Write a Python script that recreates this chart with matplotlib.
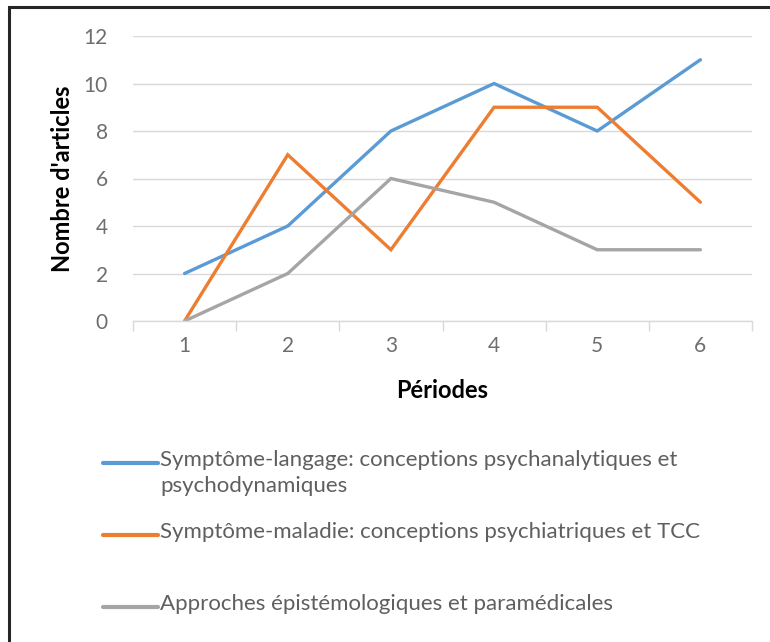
import matplotlib
matplotlib.use("Agg")
import matplotlib.pyplot as plt
from matplotlib.lines import Line2D
from matplotlib.patches import Rectangle

periods = [1, 2, 3, 4, 5, 6]
symptome_langage = [2, 4, 8, 10, 8, 11]
symptome_maladie = [0, 7, 3, 9, 9, 5]
approches = [0, 2, 6, 5, 3, 3]
series_labels = [
    "Symptôme-langage: conceptions psychanalytiques et\npsychodynamiques",
    "Symptôme-maladie: conceptions psychiatriques et TCC",
    "Approches épistémologiques et paramédicales",
]
series_colors = ["#5B9BD5", "#ED7D31", "#A5A5A5"]
y_ticks = [0, 2, 4, 6, 8, 10, 12]

plt.rcParams['font.family'] = ['Lato', 'DejaVu Sans']
W, H = 770, 642
fig = plt.figure(figsize=(W / 100, H / 100), dpi=100)

# outer border (only top/left visible, extends beyond the canvas)
fig.add_artist(Rectangle((9 / W, -0.1), 1.2, 1 - 7 / H + 0.1, transform=fig.transFigure,
                         fill=False, edgecolor="#262626", linewidth=2.2, clip_on=False))

ax = fig.add_axes([133 / W, 1 - 321 / H, (752 - 133) / W, (321 - 36) / H])
for vals, c in zip([symptome_langage, symptome_maladie, approches], series_colors):
    ax.plot(periods, vals, color=c, linewidth=2.4, solid_capstyle="round", solid_joinstyle="miter")

ax.set_xlim(0.5, 6.5)
ax.set_ylim(0, 12)
ax.set_yticks(y_ticks)
ax.set_xticks(periods)
ax.set_xticks([p - 0.5 for p in periods] + [6.5], minor=True)
ax.grid(axis="y", color="#D9D9D9", linewidth=1)
ax.set_axisbelow(True)
for s in ["top", "right", "left"]:
    ax.spines[s].set_visible(False)
ax.spines["bottom"].set_color("#D9D9D9")
ax.spines["bottom"].set_linewidth(1)
ax.tick_params(axis="y", length=0, pad=18, labelsize=15, labelcolor="#6E6E6E")
ax.tick_params(axis="x", which="major", length=0, pad=11, labelsize=15, labelcolor="#6E6E6E")
ax.tick_params(axis="x", which="minor", length=7, color="#D9D9D9", width=1)

ax.set_xlabel("Périodes", fontsize=17, fontweight="bold", labelpad=14)
ax.set_ylabel("Nombre d'articles", fontsize=17, fontweight="bold")
ax.yaxis.set_label_coords(-(133 - 62) / (752 - 133), 0.5)
ax.xaxis.set_label_coords(0.5, -(390 - 321) / (321 - 36))
ax.xaxis.label.set_va("center")
ax.yaxis.label.set_va("center")

# legend drawn manually
legend_y = [463, 535, 607]
for lab, c, yy in zip(series_labels, series_colors, legend_y):
    fig.add_artist(Line2D([103 / W, 158 / W], [1 - yy / H, 1 - yy / H], transform=fig.transFigure,
                          color=c, linewidth=3, solid_capstyle="round"))
    fig.text(160 / W, 1 - (yy - 13) / H, lab, fontsize=16, color="#5F5F5F", va="top", ha="left",
             linespacing=1.4)

fig.savefig("out.png", dpi=100)
